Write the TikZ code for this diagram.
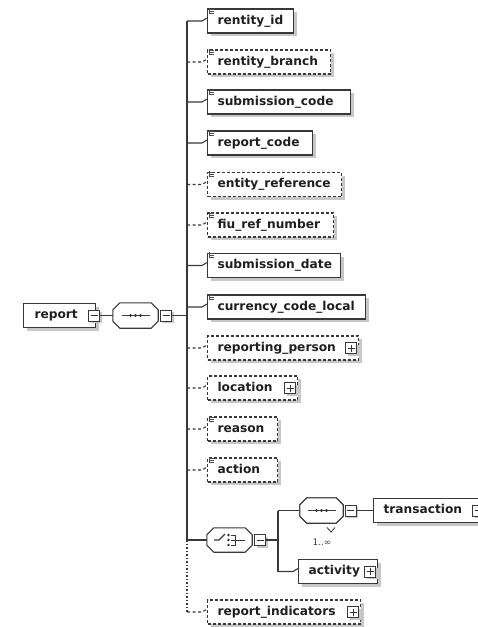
\documentclass[tikz,border=0pt]{standalone}
\usepackage{fontspec}
\setmainfont{DejaVu Sans}
\usetikzlibrary{calc,shadows}

\newcommand\elemfont{\bfseries\fontsize{12.2}{14}\selectfont}

\tikzset{
  ink/.style={draw=black!78, line width=1.1pt},
  edge/.style={ink},
  optedge/.style={ink, dash pattern=on 3pt off 2.5pt},
  dotedge/.style={ink, dash pattern=on 1.5pt off 2pt},
  elem/.style={ink, fill=white, anchor=west, minimum height=24pt,
    inner xsep=10pt, inner ysep=0pt, text height=9pt, text depth=2.5pt,
    align=left, font=\elemfont, text=black!88,
    drop shadow={shadow xshift=3pt, shadow yshift=-3pt, fill=black!22, opacity=1}},
  optelem/.style={elem, dash pattern=on 3pt off 2pt},
  sq/.style={draw=black!78, fill=white, line width=0.9pt, minimum size=11pt,
    inner sep=0pt,
    drop shadow={shadow xshift=2pt, shadow yshift=-2pt, fill=black!22, opacity=1}},
  minus/.style={sq, path picture={\draw[line width=0.9pt, black!80]
      ([xshift=2pt]path picture bounding box.west) --
      ([xshift=-2pt]path picture bounding box.east);}},
  plus/.style={sq, path picture={\draw[line width=0.9pt, black!80]
      ([xshift=2pt]path picture bounding box.west) --
      ([xshift=-2pt]path picture bounding box.east)
      ([yshift=-2pt]path picture bounding box.north) --
      ([yshift=2pt]path picture bounding box.south);}},
  oct/.style={draw=none, minimum width=45pt, minimum height=25pt, inner sep=0pt},
  octline/.style={ink, fill=white},
  octshadow/.style={draw=none, fill=black!22},
  stype/.style={draw=black!70, line width=0.5pt},
}

% octagonal compositor outline around a named placeholder node
\newcommand\octo[2][]{%
  \path[#1] ($(#2.north west)+(7,0)$) -- ($(#2.north east)+(-7,0)$)
    -- ($(#2.north east)+(0,7)$) -- ($(#2.south east)+(0,-7)$)
    -- ($(#2.south east)+(-7,0)$) -- ($(#2.south west)+(7,0)$)
    -- ($(#2.south west)+(0,-7)$) -- ($(#2.north west)+(0,7)$) -- cycle;}

% small simple-type mark in the upper left corner of an element box
\newcommand\stmark[1]{%
  \draw[stype] ($(#1.north west)+(2.5,-0.5)$) -- ++(0,6)
    ($(#1.north west)+(2.5,0.5)$) -- ++(4.5,0)
    ($(#1.north west)+(2.5,2.5)$) -- ++(4.5,0)
    ($(#1.north west)+(2.5,4.5)$) -- ++(4.5,0);}

% horizontal branch from a vertical rail into an element box
\newcommand\branch[3]{%
  \draw[#1] (#2.west -| #3) -- ([xshift=-5pt]#2.west) -- ([yshift=3pt]#2.west);}

% sequence icon: a line with three dots
\newcommand\seqicon[1]{%
  \draw[ink] ($(#1.center)+(-14,0)$) -- ($(#1.center)+(14,0)$);
  \foreach \d in {-5,0,5}{\fill[black!80] ($(#1.center)+(\d,0)$) circle (1.7pt);}}

\begin{document}
\begin{tikzpicture}[x=1pt,y=-1pt]
\useasboundingbox (0,0) rectangle (478,627);

\coordinate (trunk) at (187,0);
\coordinate (fork) at (278,0);

% ---- root element and its sequence ----
\node[elem, inner xsep=11pt, text width=50pt] (report) at (23,315.5) {report};
\node[minus] (reportm) at ([xshift=-2pt]report.east) {};

\node[oct] (seq) at (135.5,315.5) {};
\octo[octshadow, shift={(3,3)}]{seq}
\octo[octline]{seq}
\seqicon{seq}
\node[minus] (seqm) at ([xshift=8pt]seq.east) {};

% ---- child elements (box width = text width + 20pt) ----
\node[elem,    text width=66pt]  (rid)  at (207,21)    {rentity\_id};
\node[optelem, text width=103pt] (rbr)  at (207,62)    {rentity\_branch};
\node[elem,    text width=123pt] (subc) at (207,102)   {submission\_code};
\node[elem,    text width=85pt]  (repc) at (207,143)   {report\_code};
\node[optelem, text width=114pt] (eref) at (207,184.5) {entity\_reference};
\node[optelem, text width=106pt] (fiu)  at (207,225)   {fiu\_ref\_number};
\node[elem,    text width=113pt] (subd) at (207,265.5) {submission\_date};
\node[elem,    text width=138pt] (ccl)  at (207,307)   {currency\_code\_local};
\node[optelem, text width=131pt] (rper) at (207,348)   {reporting\_person};
\node[optelem, text width=70pt]  (loc)  at (207,388)   {location};
\node[optelem, text width=50pt]  (rsn)  at (207,429)   {reason};
\node[optelem, text width=50pt]  (act)  at (207,470)   {action};
\node[optelem, text width=133pt] (rind) at (207,612)   {report\_indicators};

\foreach \n in {rid,rbr,subc,repc,eref,fiu,subd,ccl,rsn,act}{\stmark{\n}}

\node[plus] (rperp) at ([xshift=-8pt]rper.east) {};
\node[plus] (locp)  at ([xshift=-8pt]loc.east) {};
\node[plus] (rindp) at ([xshift=-8pt]rind.east) {};

% ---- choice compositor ----
\node[oct, minimum height=24pt] (choice) at (229.5,540) {};
\octo[octshadow, shift={(3,3)}]{choice}
\octo[octline]{choice}
\draw[ink] (214,540) -- (219,540) -- (225,534);
\foreach \d in {535,540,545}{\fill[black!80] (228.5,\d) circle (1.3pt);}
\draw[ink, line width=0.9pt] (231,535) -- (235,535) -- (235,545) -- (231,545)
  (231,540) -- (245,540);
\node[minus] (choicem) at ([xshift=8pt]choice.east) {};

% ---- repeated sequence inside the choice ----
\node[oct, minimum width=43pt] (seqb) at (321.5,510.5) {};
\octo[octshadow, shift={(6,7)}]{seqb}
\octo[octline, shift={(3,4)}]{seqb}
\draw[ink, line width=0.8pt] (327,527.5) -- (331,532) -- (335,527.5);
\octo[octline]{seqb}
\seqicon{seqb}
\node[minus] (seqbm) at ([xshift=7.5pt]seqb.east) {};
\node[font=\fontsize{9}{10}\selectfont, text=black!75, inner sep=0pt] (mult)
  at (322,542) {1..∞};

\node[elem, text width=92pt] (trans) at (373,510.5) {transaction};
\node[plus] (transp) at ([xshift=-8pt]trans.east) {};
\node[elem, text width=59pt] (actv) at (298,571.5) {activity};
\node[plus] (actvp) at ([xshift=-8pt]actv.east) {};

% ---- connectors ----
\draw[edge] (reportm.east) -- (seq.west);
\draw[edge] (seqm.east) -- (seqm.east -| trunk);
\draw[edge] (rid.west -| trunk) -- (choice.west -| trunk);
\draw[edge] (choice.west -| trunk) -- (choice.west);
\draw[dotedge] (choice.west -| trunk) -- (rind.west -| trunk);
\draw[optedge] (rind.west -| trunk) -- ([xshift=-5pt]rind.west) -- ([yshift=3pt]rind.west);

\branch{edge}{rid}{trunk}
\branch{optedge}{rbr}{trunk}
\branch{edge}{subc}{trunk}
\branch{edge}{repc}{trunk}
\branch{optedge}{eref}{trunk}
\branch{optedge}{fiu}{trunk}
\branch{edge}{subd}{trunk}
\branch{edge}{ccl}{trunk}
\branch{optedge}{rper}{trunk}
\branch{optedge}{loc}{trunk}
\branch{optedge}{rsn}{trunk}
\branch{optedge}{act}{trunk}

\draw[edge] (choicem.east) -- (choicem.east -| fork);
\draw[edge] (seqb.west -| fork) -- (actv.west -| fork);
\draw[edge] (seqb.west -| fork) -- (seqb.west);
\branch{edge}{actv}{fork}
\draw[edge] (seqbm.east) -- (trans.west);
\end{tikzpicture}
\end{document}
